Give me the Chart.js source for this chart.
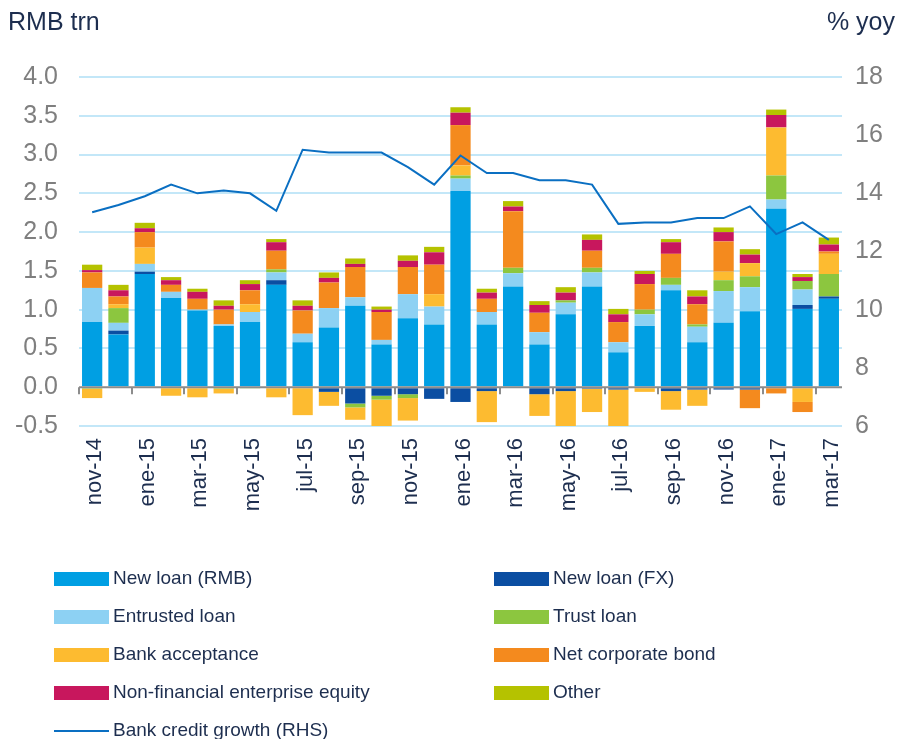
<!DOCTYPE html>
<html>
<head>
<meta charset="utf-8">
<script src="https://cdn.jsdelivr.net/npm/chart.js@4.4.1/dist/chart.umd.min.js"></script>
<style>
  html, body { margin: 0; padding: 0; background: #fff; }
  #wrap { width: 898px; height: 739px; position: relative; }
</style>
</head>
<body>
<div id="wrap"><canvas id="tsfChart"></canvas></div>
<script>
const months = ['nov-14','dic-14','ene-15','feb-15','mar-15','abr-15','may-15','jun-15','jul-15','ago-15',
  'sep-15','oct-15','nov-15','dic-15','ene-16','feb-16','mar-16','abr-16','may-16','jun-16',
  'jul-16','ago-16','sep-16','oct-16','nov-16','dic-16','ene-17','feb-17','mar-17'];

// RMB trn
const newLoanRmb = [0.84,0.68,1.46,1.15,0.99,0.79,0.84,1.32,0.58,0.77,1.05,0.55,0.89,0.81,2.53,0.81,1.30,0.55,0.94,1.30,0.45,0.79,1.25,0.58,0.83,0.98,2.30,1.01,1.14];
const newLoanFx = [0,0.05,0.03,0,0,0,0,0.06,0,-0.06,-0.21,-0.11,-0.09,-0.15,-0.19,-0.05,0,-0.09,-0.05,-0.02,-0.03,0,-0.05,-0.03,-0.03,-0.03,0,0.05,0.03];
const entrustedLoan = [0.44,0.10,0.10,0.08,0.01,0.02,0.13,0.10,0.11,0.25,0.11,0.06,0.31,0.23,0.16,0.16,0.17,0.16,0.15,0.18,0.13,0.15,0.07,0.20,0.41,0.31,0.12,0.20,0];
const trustLoan = [-0.02,0.19,0,0,0,-0.02,-0.01,0.04,0,0,-0.05,-0.05,-0.05,0,0.04,0,0.07,0,0.03,0.06,0,0.06,0.09,0.03,0.14,0.14,0.31,0.11,0.29];
const bankAcceptance = [-0.12,0.05,0.21,-0.11,-0.13,-0.06,0.10,-0.13,-0.36,-0.18,-0.16,-0.38,-0.29,0.16,0.13,-0.40,0,-0.28,-0.50,-0.30,-0.52,-0.06,-0.24,-0.21,0.11,0.17,0.62,-0.19,0.26];
const corporateBond = [0.20,0.10,0.20,0.09,0.14,0.19,0.18,0.24,0.30,0.33,0.39,0.36,0.35,0.38,0.52,0.17,0.73,0.25,0,0.22,0.26,0.33,0.31,0.26,0.39,-0.24,-0.08,-0.13,0.03];
const enterpriseEquity = [0.03,0.08,0.05,0.06,0.09,0.05,0.08,0.11,0.06,0.06,0.04,0.03,0.08,0.16,0.16,0.08,0.06,0.10,0.10,0.14,0.10,0.13,0.15,0.10,0.12,0.11,0.16,0.05,0.09];
const otherFinancing = [0.07,0.07,0.07,0.04,0.04,0.07,0.05,0.04,0.07,0.07,0.07,0.04,0.07,0.07,0.07,0.05,0.07,0.05,0.07,0.07,0.07,0.04,0.04,0.08,0.06,0.07,0.07,0.04,0.09];

// % yoy, right axis
const creditGrowth = [13.35,13.6,13.9,14.3,14.0,14.1,14.0,13.4,15.5,15.4,15.4,15.4,14.9,14.3,15.3,14.7,14.7,14.45,14.45,14.3,12.95,13.0,13.0,13.15,13.15,13.55,12.6,13.0,12.4];

const FONT = '"Liberation Sans", Arial, sans-serif';
const NAVY = '#1d2e4f';
const GREY = '#7f7f7f';

const barSeries = [
  ['New loan (RMB)', newLoanRmb, '#009fe3'],
  ['New loan (FX)', newLoanFx, '#0b4ea2'],
  ['Entrusted loan', entrustedLoan, '#8dd1f3'],
  ['Trust loan', trustLoan, '#8cc63f'],
  ['Bank acceptance', bankAcceptance, '#fdbb30'],
  ['Net corporate bond', corporateBond, '#f48a1e'],
  ['Non-financial enterprise equity', enterpriseEquity, '#c8175d'],
  ['Other', otherFinancing, '#b5c200'],
];

const datasets = barSeries.map(([label, data, color]) => ({
  type: 'bar',
  label: label,
  data: data,
  backgroundColor: color,
  borderWidth: 0,
  yAxisID: 'y',
  barPercentage: 0.77,
  categoryPercentage: 1,
}));

datasets.push({
  type: 'line',
  label: 'Bank credit growth (RHS)',
  data: creditGrowth,
  borderColor: '#0a6fc2',
  backgroundColor: '#0a6fc2',
  borderWidth: 2,
  pointRadius: 0,
  tension: 0,
  yAxisID: 'y1',
  order: -1,
});

// axis unit captions, zero line with ticks, and a two column legend
const frame = {
  id: 'frame',
  afterDatasetsDraw(chart) {
    const {ctx, chartArea, scales} = chart;
    const y0 = scales.y.getPixelForValue(0);
    const step = (chartArea.right - chartArea.left) / months.length;
    ctx.save();
    ctx.strokeStyle = '#8c8c8c';
    ctx.lineWidth = 2;
    ctx.beginPath();
    ctx.moveTo(chartArea.left, y0);
    ctx.lineTo(chartArea.right, y0);
    for (let i = 0; i < months.length; i += 2) {
      const x = Math.round(chartArea.left + i * step);
      ctx.moveTo(x, y0);
      ctx.lineTo(x, y0 + 7);
    }
    ctx.stroke();
    ctx.restore();
  },
  afterDraw(chart) {
    const {ctx} = chart;
    ctx.save();
    ctx.fillStyle = NAVY;
    ctx.font = '25px ' + FONT;
    ctx.textBaseline = 'alphabetic';
    ctx.textAlign = 'left';
    ctx.fillText('RMB trn', 8, 30);
    ctx.textAlign = 'right';
    ctx.fillText('% yoy', 895, 30);

    ctx.font = '19px ' + FONT;
    ctx.textAlign = 'left';
    ctx.textBaseline = 'middle';
    const cols = [54, 494];
    chart.data.datasets.forEach((ds, i) => {
      const x = cols[i % 2];
      const y = 579 + Math.floor(i / 2) * 38;
      if (ds.type === 'line') {
        ctx.fillStyle = ds.borderColor;
        ctx.fillRect(x, y - 1, 55, 2);
      } else {
        ctx.fillStyle = ds.backgroundColor;
        ctx.fillRect(x, y - 7, 55, 14);
      }
      ctx.fillStyle = NAVY;
      ctx.fillText(ds.label, x + 59, y);
    });
    ctx.restore();
  }
};

new Chart(document.getElementById('tsfChart'), {
  data: {
    labels: months,
    datasets: datasets,
  },
  plugins: [frame],
  options: {
    responsive: true,
    maintainAspectRatio: false,
    animation: false,
    layout: {
      padding: {top: 77, bottom: 213, left: 0, right: 0}
    },
    plugins: {
      legend: {display: false},
      tooltip: {enabled: false},
    },
    scales: {
      x: {
        stacked: true,
        grid: {display: false, drawTicks: false},
        border: {display: false},
        ticks: {
          autoSkip: false,
          minRotation: 90,
          maxRotation: 90,
          padding: 12,
          labelOffset: 3,
          color: NAVY,
          font: {family: FONT, size: 22},
          callback: (val, i) => (i % 2 === 0 ? months[i] : ''),
        },
        afterFit(scale) { scale.height = 100; },
      },
      y: {
        stacked: true,
        position: 'left',
        min: -0.5,
        max: 4.0,
        border: {display: false},
        grid: {
          drawTicks: false,
          lineWidth: 2,
          color: (c) => (c.tick && c.tick.value === 0 ? 'rgba(0,0,0,0)' : '#c3e7f8'),
        },
        ticks: {
          stepSize: 0.5,
          padding: 21,
          color: GREY,
          font: {family: FONT, size: 25},
          callback: (v) => v.toFixed(1),
        },
        afterFit(scale) { scale.width = 79; },
      },
      y1: {
        position: 'right',
        min: 6,
        max: 18,
        border: {display: false},
        grid: {display: false, drawTicks: false},
        ticks: {
          stepSize: 2,
          padding: 13,
          color: GREY,
          font: {family: FONT, size: 25},
        },
        afterFit(scale) { scale.width = 56; },
      },
    },
  },
});
</script>
</body>
</html>
